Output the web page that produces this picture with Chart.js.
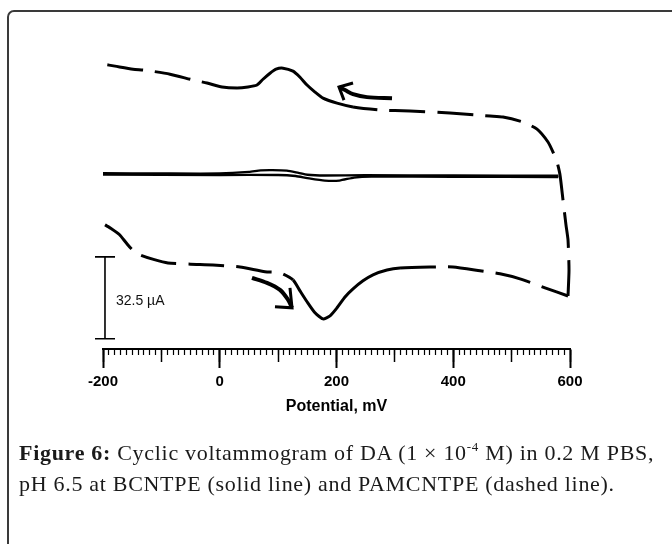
<!DOCTYPE html>
<html><head><meta charset="utf-8">
<script src="https://cdn.jsdelivr.net/npm/chart.js@4.4.1/dist/chart.umd.min.js"></script>
<style>
html,body{margin:0;padding:0;background:#fff;width:672px;height:544px;overflow:hidden}
#frame{position:absolute;left:7px;top:10px;width:720px;height:620px;border:2px solid #3a3a3a;border-top-left-radius:7px;box-sizing:border-box}
#wrap{position:absolute;left:0;top:0;width:672px;height:544px}
#cap{position:absolute;left:19px;top:437px;font-family:"Liberation Serif","Times New Roman",serif;font-size:22px;letter-spacing:0.7px;line-height:31px;color:#1a1a1a;white-space:nowrap}
#cap sup{font-size:13px;vertical-align:9px;line-height:0}
</style></head><body>
<div id="frame"></div>
<div id="wrap"><canvas id="c" width="672" height="544"></canvas></div>
<div id="cap"><b>Figure 6:</b> Cyclic voltammogram of DA (1 × 10<sup>-4</sup> M) in 0.2 M PBS,<br>pH 6.5 at BCNTPE (solid line) and PAMCNTPE (dashed line).</div>
<script>
// ---- data (potential in mV, current in µA, arbitrary zero) ----
const potentialTicks = [-200, 0, 200, 400, 600];
const xAxisTitle = 'Potential, mV';
const scaleBarLabel = '32.5 µA';
const scaleBarValue = 32.5;

// PAMCNTPE (dashed) forward scan, -200 -> 600 mV
const pamForwardX = [-196.6,-185.0,-172.0,-160.0,-150.0,-136.6,-112.0,-88.7,-50.0,-11.6,34.7,77.5,103.2,125.5,137.5,149.5,163.2,176.9,188.9,200.9,214.6,228.3,245.4,262.5,286.5,308.8,360.2,399.6,445.8,480.1,514.3,557.2,596.6];
const pamForwardY = [-19.8,-21.4,-23.6,-27.0,-29.6,-31.7,-33.6,-34.9,-35.4,-35.7,-36.5,-38.4,-38.8,-41.6,-46.0,-50.3,-54.7,-57.1,-55.9,-52.7,-48.4,-45.2,-42.0,-39.6,-37.7,-36.9,-36.5,-36.5,-38.0,-39.2,-41.2,-44.8,-48.0];
// PAMCNTPE (dashed) reverse scan, 600 -> -200 mV
const pamReverseX = [596.6,598.3,596.6,593.1,588.0,582.9,577.7,570.9,562.3,543.5,519.5,485.2,463.0,394.4,325.9,274.5,228.3,200.9,176.9,163.2,149.5,137.5,125.5,108.4,96.4,86.1,74.1,63.8,48.4,29.6,3.9,-21.8,-45.8,-85.2,-128.1,-148.6,-179.4,-200];
const pamReverseY = [-48.0,-37.7,-25.8,-19.8,-9.9,0,5.2,9.1,13.1,18.2,21.0,23.0,23.4,24.6,25.4,25.8,27.0,28.5,30.5,32.9,35.7,38.8,41.2,42.4,42.0,40.4,38.0,35.7,34.9,34.5,34.9,36.5,37.7,40.0,41.6,42.0,43.2,44.0];
// potentials where the dashed trace is drawn solid
const pamForwardSolid = [120, 312];
const pamReverseSolid = [25, 232];

// BCNTPE (solid) forward and reverse scans
const bcForwardX = [-200,0,100,130,150,180,205,230,260,400,580];
const bcForwardY = [0.2,0,0,-0.4,-1.2,-2.2,-2.2,-1.0,-0.6,-0.7,-0.8];
const bcReverseX = [580,400,250,180,150,135,115,90,70,50,0,-100,-200];
const bcReverseY = [-0.3,-0.2,-0.1,-0.2,0.1,0.8,1.7,1.9,1.8,1.2,0.6,0.6,0.7];

// scan-direction arrows
const arrowTopX = [295.1,252.2,228.3,214.6,204.3];
const arrowTopY = [30.5,30.9,32.1,33.7,34.9];
const arrowTopHeadX = [228.3,204.3,212.8];
const arrowTopHeadY = [36.5,34.9,29.7];
const arrowBotX = [55.2,80.9,103.2,116.9,123.8];
const arrowBotY = [-40.8,-42.8,-45.6,-49.5,-52.7];
const arrowBotHeadX = [120.3,123.8,94.6];
const arrowBotHeadY = [-44.8,-52.7,-52.3];

// current scale bar (vertical bar of 32.5 µA)
const barX = [-213.7,-179.4,-196.6,-196.6,-213.7,-179.4];
const barY = [-32.5,-32.5,-32.5,-65,-65,-65];

const xy = (xs, ys) => xs.map((x, i) => ({x, y: ys[i]}));
const inRange = (r, v) => v >= r[0] && v <= r[1];
const dashFor = r => ctx => (inRange(r, ctx.p0.parsed.x) && inRange(r, ctx.p1.parsed.x)) ? [] : [36, 12];

const black = '#000';
const lineDs = (label, data, w, extra) => Object.assign({
  label, data, borderColor: black, backgroundColor: black, borderWidth: w,
  pointRadius: 0, tension: 0.2, fill: false, clip: false
}, extra || {});

const scaleBarText = {
  id: 'scaleBarText',
  afterDatasetsDraw(chart) {
    const {ctx, scales: {x, y}} = chart;
    ctx.save();
    ctx.fillStyle = '#111';
    ctx.font = '14px "Liberation Sans", Arial, sans-serif';
    ctx.textBaseline = 'middle';
    ctx.fillText(scaleBarLabel, x.getPixelForValue(barX[2]) + 11, y.getPixelForValue(-scaleBarValue * 1.5) + 3);
    ctx.restore();
  }
};

const axisPos = {y: -69};
const commonX = {type: 'linear', min: -200, max: 600, position: axisPos};

new Chart(document.getElementById('c'), {
  type: 'line',
  data: {
    datasets: [
      lineDs('PAMCNTPE forward', xy(pamForwardX, pamForwardY), 3, {segment: {borderDash: dashFor(pamForwardSolid)}}),
      lineDs('PAMCNTPE reverse', xy(pamReverseX, pamReverseY), 3, {segment: {borderDash: dashFor(pamReverseSolid)}}),
      lineDs('BCNTPE forward', xy(bcForwardX, bcForwardY), 2.3),
      lineDs('BCNTPE reverse', xy(bcReverseX, bcReverseY), 2.3),
      lineDs('arrow 1', xy(arrowTopX, arrowTopY), 4, {tension: 0.3}),
      lineDs('arrow 1 head', xy(arrowTopHeadX, arrowTopHeadY), 3, {tension: 0}),
      lineDs('arrow 2', xy(arrowBotX, arrowBotY), 4, {tension: 0.3}),
      lineDs('arrow 2 head', xy(arrowBotHeadX, arrowBotHeadY), 3, {tension: 0}),
      lineDs('scale bar', xy(barX, barY), 1.6, {tension: 0})
    ]
  },
  options: {
    responsive: false, animation: false, events: [],
    layout: {padding: {left: 103, right: 102, top: 49, bottom: 117}},
    plugins: {legend: {display: false}, tooltip: {enabled: false}},
    scales: {
      y: {type: 'linear', min: -100, max: 50, display: false},
      x: Object.assign({}, commonX, {
        grid: {drawOnChartArea: false, drawTicks: true, tickLength: 18, tickWidth: 2, tickColor: black},
        border: {display: true, color: black, width: 2},
        afterBuildTicks: s => { s.ticks = potentialTicks.map(v => ({value: v})); },
        ticks: {color: '#000', font: {family: '"Liberation Sans", Arial, sans-serif', size: 15, weight: 'bold'}, padding: 6, maxRotation: 0, autoSkip: false},
        title: {display: true, text: xAxisTitle, color: '#000', font: {family: '"Liberation Sans", Arial, sans-serif', size: 16, weight: 'bold'}, padding: {top: 0, bottom: 0}}
      }),
      x2: Object.assign({}, commonX, {
        grid: {drawOnChartArea: false, drawTicks: true, tickLength: 13, tickWidth: 1.5, tickColor: black},
        border: {display: false},
        ticks: {display: false, stepSize: 100}
      }),
      x3: Object.assign({}, commonX, {
        grid: {drawOnChartArea: false, drawTicks: true, tickLength: 6, tickWidth: 1.2, tickColor: black},
        border: {display: false},
        ticks: {display: false, stepSize: 10}
      })
    }
  },
  plugins: [scaleBarText]
});
</script>
</body></html>
